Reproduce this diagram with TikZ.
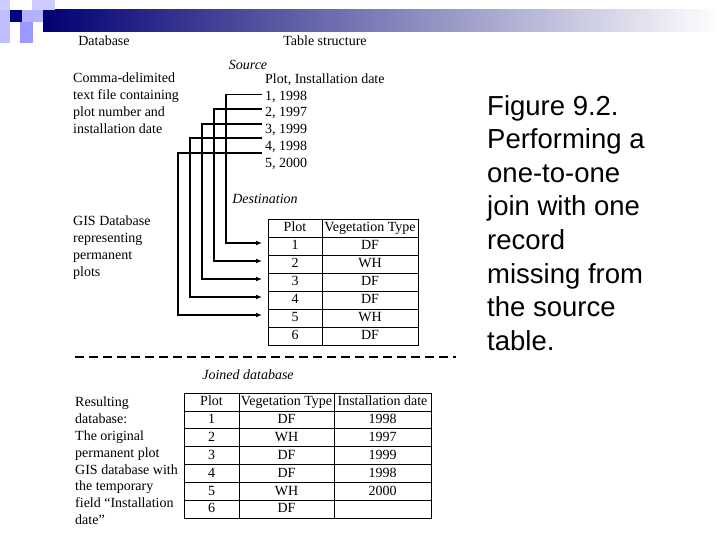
\documentclass[tikz,border=0pt]{standalone}
\usepackage{fontspec}
\setmainfont{Liberation Serif}
\newfontfamily\capfont{Liberation Sans}
\usetikzlibrary{arrows.meta}
\begin{document}
\begin{tikzpicture}[x=1pt,y=-1pt,
  txt/.style={font=\fontsize{14}{16.8}\selectfont,inner sep=0pt,text height=9.5pt,text depth=2.5pt},
  lt/.style={font=\fontsize{14}{16.8}\selectfont,inner sep=0pt,anchor=west,align=left},
  conn/.style={line width=1.3pt,-{Latex[length=6pt,width=5pt]}},
  cell/.style={draw,line width=0.8pt}]
\useasboundingbox (0,0) rectangle (720,540);
% header decoration
\shade[left color=blue!45!black, right color=white] (43,10) rectangle (720,32);
\fill[blue!20!white] (0,0) rectangle (10,10);
\fill[blue!20!white] (32,0) rectangle (55,10);
\fill[blue!30!white] (22,10) rectangle (43,22);
\fill[blue!25!white] (0,10) rectangle (10,43);
\fill[blue!40!white] (20,22) rectangle (33,43);
\fill[blue!50!black] (10,10) rectangle (22,22);
% headings
\node[txt] (hdb) at (104,42) {Database};
\node[txt] (hts) at (325,42) {Table structure};
\node[txt,font=\fontsize{14}{15}\selectfont\itshape] (src) at (248,66) {Source};
\node[lt,anchor=north west] (comma) at (73,73) {Comma-delimited\\text file containing\\plot number and\\installation date};
\node[lt] (sh) at (265,80) {Plot, Installation date};
\foreach \i/\t/\y in {1/{1, 1998}/96.5,2/{2, 1997}/113,3/{3, 1999}/130,4/{4, 1998}/147,5/{5, 2000}/164}
  \node[lt] (s\i) at (265,\y) {\t};
\node[txt,font=\fontsize{14}{15}\selectfont\itshape] (dst) at (265,200) {Destination};
\node[lt,anchor=north west] (gis) at (73,216) {GIS Database\\representing\\permanent\\plots};
% destination table
\foreach \r in {0,...,6} {
  \draw[cell] (268,219+18*\r) rectangle (322,237+18*\r);
  \draw[cell] (322,219+18*\r) rectangle (418,237+18*\r);
}
\node[txt] (dh1) at (295,228) {Plot};
\node[txt] (dh2) at (370,228) {Vegetation Type};
\foreach \i/\v in {1/DF,2/WH,3/DF,4/DF,5/WH,6/DF} {
  \node[txt] (d\i) at (295,228+18*\i) {\i};
  \node[txt] (dv\i) at (370,228+18*\i) {\v};
}
% connectors
\coordinate (e1) at (262,243); \coordinate (e2) at (262,261);
\coordinate (e3) at (262,279); \coordinate (e4) at (262,297); \coordinate (e5) at (262,315);
\draw[conn] (s1.west) ++(-3,-2) -| (226,243) -- (e1);
\draw[conn] (s2.west) ++(-3,-4) -| (214,261) -- (e2);
\draw[conn] (s3.west) ++(-3,-6) -| (202,279) -- (e3);
\draw[conn] (s4.west) ++(-3,-9) -| (190,297) -- (e4);
\draw[conn] (s5.west) ++(-3,-11) -| (178,315) -- (e5);
% dashed separator
\coordinate (da) at (75,357); \coordinate (db) at (456,357);
\draw[line width=2pt,dash pattern=on 9pt off 5pt] (da) -- (db);
\node[txt,font=\fontsize{14}{15}\selectfont\itshape] (jd) at (248,376) {Joined database};
\node[lt,anchor=north west] (res) at (75,397) {Resulting\\database:\\The original\\permanent plot\\GIS database with\\the temporary\\field “Installation\\date”};
% joined table
\foreach \r in {0,...,6} {
  \draw[cell] (184,393+17.9*\r) rectangle (239,410.9+17.9*\r);
  \draw[cell] (239,393+17.9*\r) rectangle (334,410.9+17.9*\r);
  \draw[cell] (334,393+17.9*\r) rectangle (431,410.9+17.9*\r);
}
\node[txt] (jh1) at (211.5,402) {Plot};
\node[txt] (jh2) at (286.5,402) {Vegetation Type};
\node[txt] (jh3) at (382.5,402) {Installation date};
\foreach \i/\v/\d in {1/DF/1998,2/WH/1997,3/DF/1999,4/DF/1998,5/WH/2000,6/DF/{}} {
  \node[txt] (j\i) at (211.5,402+17.9*\i) {\i};
  \node[txt] (jv\i) at (286.5,402+17.9*\i) {\v};
  \node[txt] (jd\i) at (382.5,402+17.9*\i) {\d};
}
% caption
\node[anchor=north west,align=left,inner sep=0pt,font=\capfont\fontsize{27.5}{33.6}\selectfont] (cap) at (487,95) {Figure 9.2.\\Performing a\\one-to-one\\join with one\\record\\missing from\\the source\\table.};
\end{tikzpicture}
\end{document}
